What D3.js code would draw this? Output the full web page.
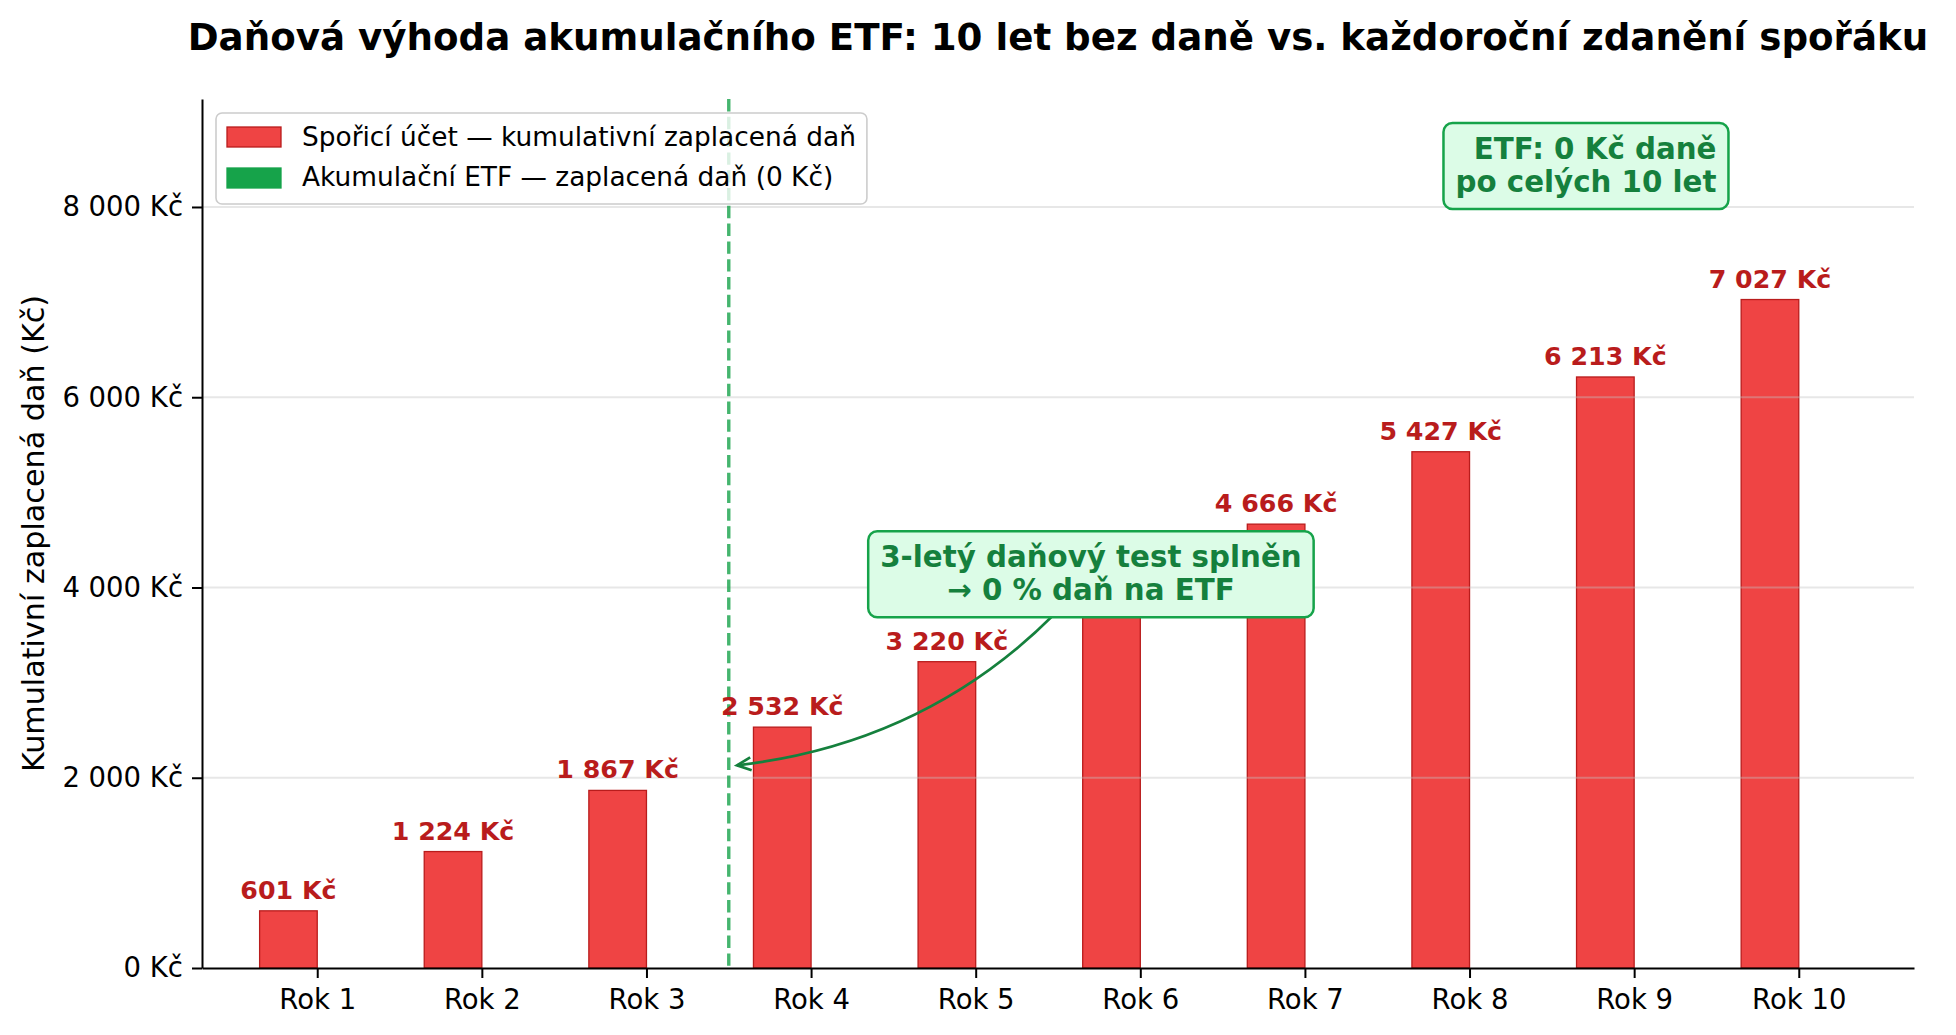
<!DOCTYPE html>
<html>
<head>
<meta charset="utf-8">
<script src="https://cdn.jsdelivr.net/npm/d3@7"></script>
<style>
  body { margin: 0; background: #fff; }
  text { font-family: "DejaVu Sans", sans-serif; }
</style>
</head>
<body>
<div id="chart"></div>
<script>
// data
var categories = ["Rok 1", "Rok 2", "Rok 3", "Rok 4", "Rok 5", "Rok 6", "Rok 7", "Rok 8", "Rok 9", "Rok 10"];
var savingsTax = [601, 1224, 1867, 2532, 3220, 3932, 4666, 5427, 6213, 7027];
var etfTax = [0, 0, 0, 0, 0, 0, 0, 0, 0, 0];
var yTicks = [0, 2000, 4000, 6000, 8000];
var seriesNames = ["Spořicí účet — kumulativní zaplacená daň", "Akumulační ETF — zaplacená daň (0 Kč)"];
var testYear = 2.5;                       // between Rok 3 and Rok 4
var testNote = ["3-letý daňový test splněn", "→ 0 % daň na ETF"];
var testNotePos = [4.7, 4140];            // text centre, data units
var testArrowTip = [2.55, 2130];
var etfNote = ["ETF: 0 Kč daně", "po celých 10 let"];
var etfNotePos = [8.5, 8430];             // right edge / middle, data units

var svgWidth = 1956;
var svgHeight = 1035;
var margin = {top: 99, right: 42, bottom: 67, left: 202};
var width = svgWidth - margin.left - margin.right;
var height = svgHeight - margin.top - margin.bottom;

var red = "#ef4444", redDark = "#b91c1c", green = "#16a34a", greenDark = "#15803d", greenFill = "#dcfce7";
var barW = 0.35;

var cz = d3.formatLocale({decimal: ",", thousands: " ", grouping: [3], currency: ["", " Kč"]});
var fmtKc = cz.format("$,.0f");

var svg = d3.select("#chart")
  .append("svg")
  .attr("width", svgWidth)
  .attr("height", svgHeight);

svg.append("rect").attr("width", svgWidth).attr("height", svgHeight).attr("fill", "#fff");

var chartGroup = svg.append("g")
  .attr("transform", `translate(${margin.left}, ${margin.top})`);

// scales
var xScale = d3.scaleLinear()
  .domain([-0.7, categories.length - 1 + 0.7])
  .range([0, width]);
var yScale = d3.scaleLinear()
  .domain([0, d3.max(savingsTax) * 1.3])
  .range([height, 0]);

// bars
chartGroup.selectAll(".bar-sav")
  .data(savingsTax)
  .enter()
  .append("rect")
  .attr("class", "bar-sav")
  .attr("x", (d, i) => xScale(i - barW))
  .attr("y", d => yScale(d))
  .attr("width", xScale(barW) - xScale(0))
  .attr("height", d => height - yScale(d))
  .attr("fill", red)
  .attr("stroke", redDark)
  .attr("stroke-width", 1.3);

chartGroup.selectAll(".bar-etf")
  .data(etfTax)
  .enter()
  .append("rect")
  .attr("class", "bar-etf")
  .attr("x", (d, i) => xScale(i))
  .attr("y", d => yScale(d))
  .attr("width", xScale(barW) - xScale(0))
  .attr("height", d => height - yScale(d))
  .attr("fill", green);

// grid (over the bars, translucent)
chartGroup.append("g")
  .selectAll("line")
  .data(yTicks.slice(1))
  .enter()
  .append("line")
  .attr("x1", 0)
  .attr("x2", width)
  .attr("y1", d => yScale(d))
  .attr("y2", d => yScale(d))
  .attr("stroke", "#c4c4c4")
  .attr("stroke-opacity", 0.4)
  .attr("stroke-width", 2);

// axes
var bottomAxis = d3.axisBottom(xScale)
  .tickValues(d3.range(categories.length))
  .tickFormat(i => categories[i])
  .tickSize(10)
  .tickSizeOuter(0)
  .tickPadding(11);
var leftAxis = d3.axisLeft(yScale)
  .tickValues(yTicks)
  .tickFormat(fmtKc)
  .tickSize(10)
  .tickSizeOuter(0)
  .tickPadding(9);

var xAxisG = chartGroup.append("g")
  .attr("transform", `translate(0, ${height})`)
  .call(bottomAxis);
var yAxisG = chartGroup.append("g")
  .call(leftAxis);

[xAxisG, yAxisG].forEach(function(g) {
  g.select(".domain").attr("stroke", "#000").attr("stroke-width", 2);
  g.selectAll(".tick line").attr("stroke", "#000").attr("stroke-width", 2);
  g.selectAll(".tick text")
    .attr("fill", "#000")
    .style("font-family", "DejaVu Sans")
    .style("font-size", "27.5px");
});

// 3-year test line
chartGroup.append("line")
  .attr("x1", xScale(testYear))
  .attr("x2", xScale(testYear))
  .attr("y1", 0)
  .attr("y2", height)
  .attr("stroke", green)
  .attr("stroke-opacity", 0.8)
  .attr("stroke-width", 3.4)
  .attr("stroke-dasharray", "12.4,5.4");

// value labels
chartGroup.selectAll(".val")
  .data(savingsTax)
  .enter()
  .append("text")
  .attr("class", "val")
  .attr("x", (d, i) => xScale(i - barW / 2))
  .attr("y", d => yScale(d) - 12)
  .attr("text-anchor", "middle")
  .attr("fill", redDark)
  .style("font-size", "25.3px")
  .style("font-weight", "bold")
  .text(fmtKc);

// curved arrow (arc3, rad -0.2) from note centre to tip
var ax0 = xScale(testNotePos[0]), ay0 = yScale(testNotePos[1]);
var bx = xScale(testArrowTip[0]), by = yScale(testArrowTip[1]);
var rad = -0.2;
var cx = (ax0 + bx) / 2 - rad * (by - ay0);
var cy = (ay0 + by) / 2 + rad * (bx - ax0);
chartGroup.append("path")
  .attr("d", `M${ax0},${ay0} Q${cx},${cy} ${bx},${by}`)
  .attr("fill", "none")
  .attr("stroke", greenDark)
  .attr("stroke-width", 2.7);
var ang = Math.atan2(by - cy, bx - cx);
var headL = 14, headW = 6.5;
function headPt(side) {
  return [bx - headL * Math.cos(ang) - side * headW * Math.sin(ang),
          by - headL * Math.sin(ang) + side * headW * Math.cos(ang)];
}
chartGroup.append("path")
  .attr("d", "M" + headPt(1) + "L" + bx + "," + by + "L" + headPt(-1))
  .attr("fill", "none")
  .attr("stroke", greenDark)
  .attr("stroke-width", 2.7);

// note boxes
function noteBox(lines, px, py, anchor) {
  var g = chartGroup.append("g");
  var rect = g.append("rect");
  var t = g.append("text")
    .attr("text-anchor", anchor)
    .attr("fill", greenDark)
    .style("font-size", "29.3px")
    .style("font-weight", "bold");
  t.selectAll("tspan")
    .data(lines)
    .enter()
    .append("tspan")
    .attr("x", px)
    .attr("y", (d, i) => py - 7.5 + i * 33.5)
    .text(d => d);
  var bb = t.node().getBBox();
  rect.attr("x", bb.x - 12)
    .attr("y", py - 43)
    .attr("width", bb.width + 24)
    .attr("height", 86)
    .attr("rx", 9)
    .attr("fill", greenFill)
    .attr("stroke", green)
    .attr("stroke-width", 2.5);
}
noteBox(testNote, ax0, ay0, "middle");
noteBox(etfNote, xScale(etfNotePos[0]), yScale(etfNotePos[1]), "end");

// legend
var legend = svg.append("g").attr("transform", "translate(216, 113)");
var legBox = legend.append("rect")
  .attr("height", 91)
  .attr("rx", 6)
  .attr("fill", "#fff")
  .attr("fill-opacity", 0.8)
  .attr("stroke", "#cccccc")
  .attr("stroke-width", 1.6);
var legColors = [[red, redDark], [green, green]];
var maxLen = 0;
seriesNames.forEach(function(name, i) {
  legend.append("rect")
    .attr("x", 11)
    .attr("y", 14 + i * 41)
    .attr("width", 54)
    .attr("height", 20)
    .attr("fill", legColors[i][0])
    .attr("stroke", legColors[i][1])
    .attr("stroke-width", 1.3);
  var lt = legend.append("text")
    .attr("x", 86)
    .attr("y", 33 + i * 40)
    .attr("fill", "#000")
    .style("font-size", "26.4px")
    .text(name);
  maxLen = Math.max(maxLen, lt.node().getComputedTextLength());
});
legBox.attr("width", 86 + maxLen + 11);

// y label
svg.append("text")
  .attr("transform", `translate(44, ${margin.top + height / 2}) rotate(-90)`)
  .attr("text-anchor", "middle")
  .attr("fill", "#000")
  .style("font-size", "30.2px")
  .text("Kumulativní zaplacená daň (Kč)");

// title
svg.append("text")
  .attr("x", margin.left + width / 2)
  .attr("y", 50)
  .attr("text-anchor", "middle")
  .attr("fill", "#000")
  .style("font-size", "37.2px")
  .style("font-weight", "bold")
  .text("Daňová výhoda akumulačního ETF: 10 let bez daně vs. každoroční zdanění spořáku");
</script>
</body>
</html>
